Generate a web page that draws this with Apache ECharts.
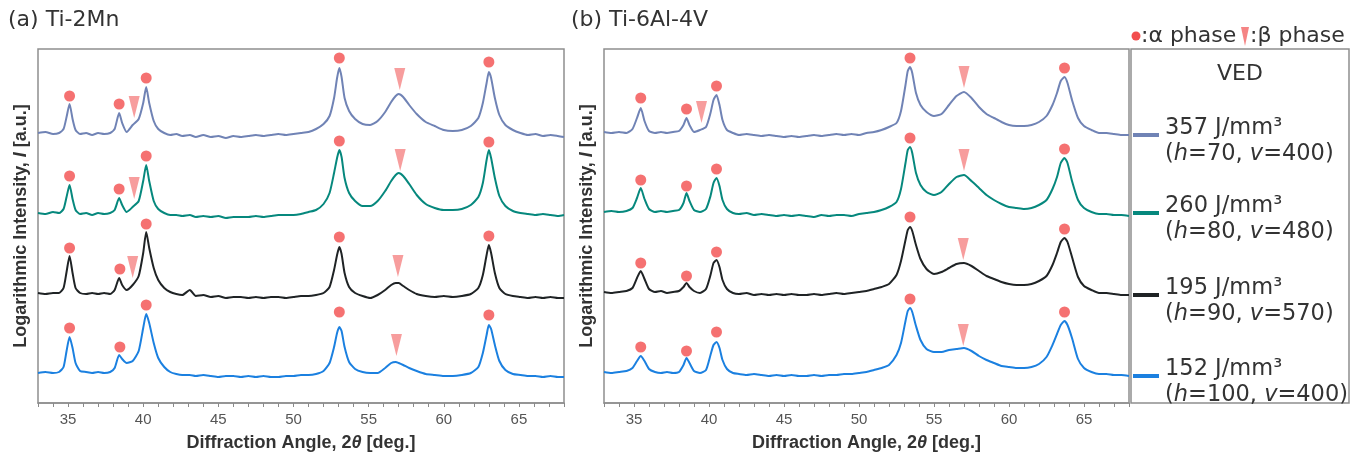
<!DOCTYPE html>
<html><head><meta charset="utf-8">
<script src="https://cdn.jsdelivr.net/npm/echarts@6/dist/echarts.min.js"></script>
<style>html,body{margin:0;padding:0;background:#fff}#c{width:1362px;height:457px}</style>
</head><body><div id="c"></div>
<script>
// ---- data (heights in arbitrary log-intensity units, traces stacked) ----
const xA = [33,33.5,34,34.4,34.7,34.9,35.1,35.3,35.5,35.8,
 36.2,36.6,37,37.4,37.8,38.1,38.4,38.6,38.9,39.3,
 39.7,40.0,40.2,40.4,40.7,41.0,41.4,41.8,42.2,42.6,
 43.1,43.5,44,44.5,45,45.5,46,46.5,47,47.5,
 48,48.5,49,49.5,50,50.5,51,51.5,52,52.4,
 52.7,52.9,53.05,53.2,53.4,53.7,54.1,54.6,55.1,55.6,
 56.1,56.5,56.8,57.0,57.3,57.7,58.2,58.8,59.4,60,
 60.6,61.2,61.8,62.3,62.6,62.85,63.0,63.15,63.4,63.7,
 64.1,64.6,65.1,65.6,66.1,66.6,67.1,67.6,68];
const A1 = [270,271,269,270,274,286,299,284,273,269,
 270,268,270,269,270,274,290,280,271,278,
 284,300,316,300,282,274,270,268,269,267,
 268,266,268,266,267,265,267,266,267,268,
 267,268,269,268,269,270,271,274,279,287,
 305,325,335,326,305,292,284,279,278,282,
 291,301,307,309,306,298,289,281,277,273,
 272,273,277,285,300,320,331,325,305,288,
 278,273,270,268,269,267,268,267,266];
const A2 = [190,189,191,190,194,206,218,204,193,189,
 190,188,190,189,190,193,205,198,191,196,
 202,222,238,222,202,194,190,188,188,187,
 188,186,187,186,187,185,186,186,186,187,
 186,187,188,188,188,189,191,193,199,210,
 230,245,253,246,225,210,202,197,197,202,
 212,222,228,230,227,219,208,199,195,193,
 193,194,198,206,220,243,253,245,225,207,
 197,192,190,189,188,189,188,187,188];
const A3 = [110,109,110,110,115,131,147,130,115,110,
 109,110,109,110,109,113,125,118,113,118,
 127,150,171,155,135,123,115,111,109,108,
 113,107,108,106,107,105,106,106,105,106,
 105,106,106,105,106,107,107,108,110,116,
 133,148,156,149,130,116,110,107,105,108,
 113,118,120,120,117,113,109,107,106,107,
 106,107,109,115,128,148,158,150,130,115,
 109,107,106,105,106,105,106,105,105];
const A4 = [30,31,30,31,36,52,66,55,40,32,
 31,30,31,30,31,35,48,44,40,42,
 52,75,89,80,60,45,36,31,29,28,
 28,27,28,27,26,27,27,26,27,26,
 27,26,26,27,27,28,28,29,32,40,
 56,70,76,72,56,41,34,31,30,30,
 35,40,41,40,38,35,32,29,28,27,
 27,28,30,36,50,68,78,74,58,42,
 33,29,28,27,27,26,27,26,26];

const xB = [33,33.5,34,34.5,34.9,35.2,35.45,35.7,36.0,36.4,
 36.8,37.2,37.6,38.0,38.3,38.5,38.7,39.0,39.4,39.8,
 40.1,40.3,40.5,40.7,40.9,41.2,41.6,42,42.5,43,
 43.5,44,44.5,45,45.5,46,46.5,47,47.5,48,
 48.5,49,49.5,50,50.5,51,51.5,52,52.5,52.8,
 53.1,53.25,53.4,53.55,53.8,54.1,54.5,55.0,55.5,56.0,
 56.5,57.0,57.5,58.0,58.5,59.0,59.5,60.0,60.5,61.0,
 61.5,62.0,62.5,62.9,63.2,63.45,63.7,63.9,64.2,64.6,
 65.0,65.5,66,66.5,67,67.5,68];
const B1 = [271,270,271,270,274,285,295,282,272,270,
 271,270,271,272,278,285,278,271,273,276,
 290,303,308,298,283,273,270,268,269,268,
 267,268,267,266,267,266,267,268,267,268,
 269,268,269,268,270,271,273,276,280,292,
 318,332,336,330,310,298,291,287,289,298,
 307,311,305,296,289,285,281,278,277,277,
 278,281,287,298,310,322,326,320,303,285,
 277,273,270,270,269,268,268];
const B2 = [191,192,191,192,195,205,215,204,194,191,
 192,191,192,193,200,210,202,193,191,194,
 207,220,225,217,203,194,190,189,190,188,
 189,188,187,188,187,188,187,186,188,187,
 188,188,187,189,190,191,193,196,201,214,
 240,253,256,250,230,218,211,208,211,219,
 226,228,222,215,208,203,199,196,195,194,
 195,198,203,214,226,240,245,240,222,203,
 195,191,189,189,188,188,187];
const B3 = [111,110,111,112,115,125,132,124,114,111,
 112,110,111,112,116,120,116,112,110,114,
 128,140,143,136,123,114,110,109,110,108,
 109,108,109,108,109,108,108,109,108,109,
 110,109,110,111,112,114,116,119,128,142,
 163,173,176,172,158,144,134,129,131,135,
 139,140,137,132,127,124,121,119,118,118,
 119,122,127,138,150,161,165,161,146,126,
 117,113,110,110,109,108,108];
const B4 = [31,30,31,32,35,42,47,42,34,31,
 30,31,30,31,38,45,40,32,30,33,
 48,58,61,55,43,34,30,29,28,29,
 28,27,28,27,28,27,27,28,27,28,
 28,29,29,30,31,33,35,38,48,60,
 82,92,95,91,77,63,54,51,51,53,
 54,55,52,47,43,40,37,36,35,35,
 36,39,46,58,69,78,82,78,65,44,
 35,31,29,29,28,28,27];

// alpha-phase (circle) and beta-phase (triangle) markers
const alphaA = [[35.1,307],[38.4,299],[40.2,325],[53.05,345],[63.0,341],
 [35.1,227],[38.4,214],[40.2,247],[53.05,262],[63.0,261],
 [35.1,155],[38.45,134],[40.2,179],[53.05,166],[63.0,167],
 [35.1,75],[38.45,56],[40.2,98],[53.05,91],[63.0,88]];
const betaA = [[39.4,296],[57.07,324],[39.4,215],[57.1,243],[39.3,136],[56.95,137],[56.85,58]];
const alphaB = [[35.45,305],[38.5,294],[40.5,317],[53.4,345],[63.7,335],
 [35.45,223],[38.5,217],[40.5,234],[53.4,265],[63.7,254],
 [35.45,140],[38.5,127],[40.5,151],[53.4,186],[63.7,174],
 [35.45,56],[38.5,52],[40.5,71],[53.4,104],[63.7,91]];
const betaB = [[39.5,291],[57.0,326],[57.0,243],[56.95,154],[56.95,68]];

const seriesNames = ['357 J/mm³','260 J/mm³','195 J/mm³','152 J/mm³'];
const seriesParams = ['(h=70, v=400)','(h=80, v=480)','(h=90, v=570)','(h=100, v=400)'];
const panelTitles = ['(a) Ti-2Mn','(b) Ti-6Al-4V'];
const xTicks = [35,40,45,50,55,60,65];

// ---- build ----
const colors = ['#7083b5','#06887d','#1f2325','#1b80e0'];
const alphaColor = '#f24d4d', betaColor = '#f58484';
const AX = 'Liberation Sans, Arial, sans-serif';
const DV = 'DejaVu Sans, Verdana, sans-serif';

function zip(xs, ys, name){
  if (xs.length !== ys.length) throw new Error('length mismatch ' + name + ' ' + xs.length + ' vs ' + ys.length);
  return xs.map((x,i)=>[x, ys[i]]);
}
const panels = [[xA,[A1,A2,A3,A4],alphaA,betaA,'A'],[xB,[B1,B2,B3,B4],alphaB,betaB,'B']];

const grids = [
  {left:38, top:49, width:526, height:354, show:true, borderColor:'#8e8e8e', borderWidth:1.5, backgroundColor:'transparent'},
  {left:604, top:49, width:525, height:354, show:true, borderColor:'#8e8e8e', borderWidth:1.5, backgroundColor:'transparent'}
];
const xAxes = [0,1].map(g=>({
  type:'value', gridIndex:g, min:33, max:68, interval:1,
  axisLine:{show:true, onZero:false, lineStyle:{color:'#8e8e8e', width:1.5}},
  axisTick:{show:true, inside:false, length:4, lineStyle:{color:'#8a8a8a', width:1}},
  axisLabel:{margin:9, fontFamily:AX, fontSize:15, color:'#555',
    formatter:v=> xTicks.indexOf(v)>=0 ? String(v) : ''},
  splitLine:{show:false},
  name:'{n|Diffraction Angle, 2}{i|θ}{n| [deg.]}', nameLocation:'middle', nameGap:31,
  nameTextStyle:{rich:{
    n:{fontFamily:AX, fontSize:18, fontWeight:'bold', color:'#333'},
    i:{fontFamily:AX, fontSize:18, fontWeight:'bold', fontStyle:'italic', color:'#333'}}}
}));
const yAxes = [0,1].map(g=>({
  type:'value', gridIndex:g, min:0, max:354,
  axisLine:{show:false}, axisTick:{show:false}, axisLabel:{show:false}, splitLine:{show:false},
  name:'{n|Logarithmic Intensity, }{i|I}{n| [a.u.]}', nameLocation:'middle', nameGap:8,
  nameTextStyle:{rich:{
    n:{fontFamily:AX, fontSize:18, fontWeight:'bold', color:'#333'},
    i:{fontFamily:AX, fontSize:18, fontWeight:'bold', fontStyle:'italic', color:'#333'}}}
}));

const series = [];
panels.forEach((p,g)=>{
  const [xs, ys, al, be, tag] = p;
  ys.forEach((y,k)=>{
    series.push({type:'line', name:seriesNames[k], xAxisIndex:g, yAxisIndex:g,
      data:zip(xs,y,tag+(k+1)), showSymbol:false, smooth:0.2, clip:true,
      lineStyle:{color:colors[k], width:2}, itemStyle:{color:colors[k]}, z:2, animation:false});
  });
  series.push({type:'scatter', xAxisIndex:g, yAxisIndex:g, data:al, symbol:'circle', symbolSize:11,
    itemStyle:{color:alphaColor}, z:5, animation:false, silent:true});
  series.push({type:'scatter', xAxisIndex:g, yAxisIndex:g, data:be,
    symbol:'path://M0,0 L10,0 L5,20 Z', symbolSize:[11,22],
    itemStyle:{color:betaColor}, z:5, animation:false, silent:true});
});

// legend (drawn as graphics)
const graphic = [
  {type:'text', left:8, top:9, style:{text:panelTitles[0], font:'22px '+DV, fill:'#333'}},
  {type:'text', left:571, top:9, style:{text:panelTitles[1], font:'22px '+DV, fill:'#333'}},
  {type:'circle', shape:{cx:1136, cy:36, r:4.5}, style:{fill:alphaColor}},
  {type:'text', x:1141, y:36, style:{text:':α phase', font:'22px '+DV, fill:'#333', textVerticalAlign:'middle'}},
  {type:'polygon', shape:{points:[[1241,27],[1249,27],[1245,46]]}, style:{fill:betaColor}},
  {type:'text', x:1250, y:36, style:{text:':β phase', font:'22px '+DV, fill:'#333', textVerticalAlign:'middle'}},
  {type:'rect', shape:{x:1131, y:49, width:218, height:354}, style:{fill:'none', stroke:'#8e8e8e', lineWidth:1.5}},
  {type:'text', x:1240, y:74, style:{text:'VED', font:'22px '+DV, fill:'#333', textAlign:'center', textVerticalAlign:'middle'}}
];
const legY = [135, 213, 295, 376];
legY.forEach((y,k)=>{
  graphic.push({type:'line', shape:{x1:1133, y1:y, x2:1159, y2:y}, style:{stroke:colors[k], lineWidth:4}});
  graphic.push({type:'text', x:1165, y:y-7, style:{text:seriesNames[k], font:'22.5px '+DV, fill:'#333', textVerticalAlign:'middle'}});
  const m = seriesParams[k].match(/^\(h=(\d+), v=(\d+)\)$/);
  graphic.push({type:'text', x:1165, y:y+19, style:{
    text:'{n|(}{i|h}{n|='+m[1]+', }{i|v}{n|='+m[2]+')}', textVerticalAlign:'middle',
    rich:{n:{font:'22.5px '+DV, fill:'#333'}, i:{font:'italic 22.5px '+DV, fill:'#333'}}}});
});

const chart = echarts.init(document.getElementById('c'), null, {renderer:'canvas'});
chart.setOption({animation:false, backgroundColor:'#fff', grid:grids, xAxis:xAxes, yAxis:yAxes, series, graphic});
</script></body></html>
